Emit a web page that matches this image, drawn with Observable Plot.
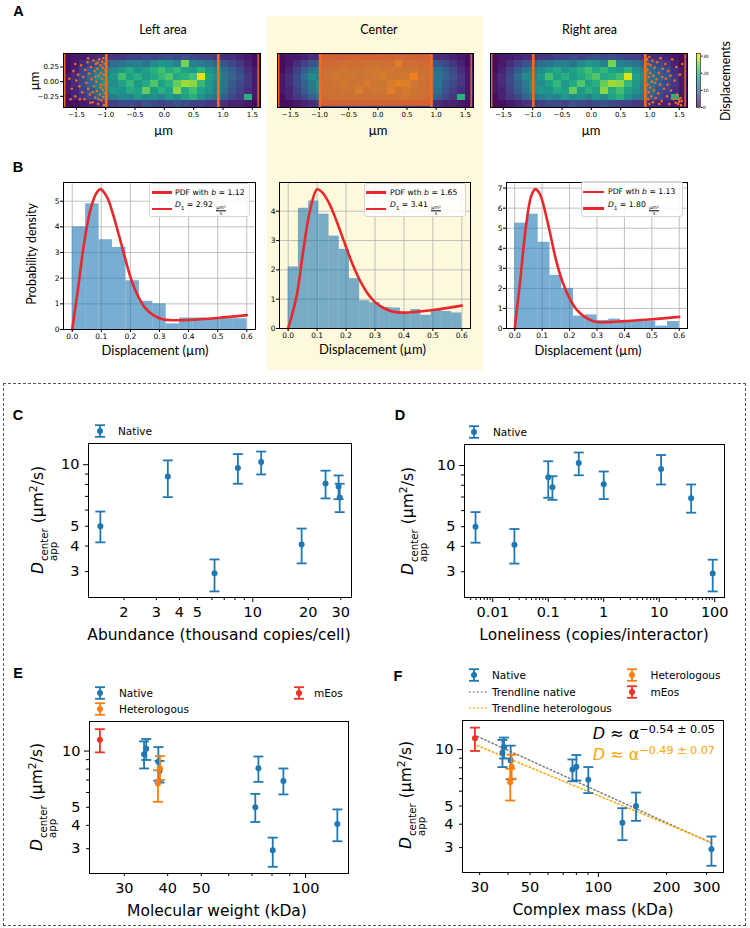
<!DOCTYPE html>
<html><head><meta charset="utf-8">
<script src="https://cdn.jsdelivr.net/npm/d3@7"></script>
<script src="https://cdn.jsdelivr.net/npm/@observablehq/plot@0.6"></script>
<style>
html,body{margin:0;padding:0;background:#fff;}
#root{position:relative;width:750px;height:928px;overflow:hidden;background:#fff;}
#root svg{overflow:visible;}
.lbl{position:absolute;white-space:nowrap;line-height:1;}
.ss{display:inline-flex;flex-direction:column;font-size:0.66em;line-height:0.95;vertical-align:-0.45em;margin-left:1px;}
.frac{display:inline-flex;flex-direction:column;align-items:center;font-size:0.62em;line-height:1.05;vertical-align:-0.5em;margin-left:1px;}
.frac span:first-child{border-bottom:0.7px solid #000;}
</style></head><body><div id="root"></div>
<script>
const root = document.getElementById("root");
const ORANGE = "#f36a21", RED = "#e8282b";
const BLUE = "#1f77b4", ORG = "#ff7f0e", MEOS = "#ee3224";

// ---------------- Panel A data ----------------
const heatXRange = [-1.72, 1.64];
const heatYRange = [-0.44, 0.48];
const heatGrid = [
  [1,2,2,3,4,4,5,5,6,6,7,6,7,8,7,8,7,6,6,5,4,4,3,2,1],
  [1,2,4,6,8,9,11,12,13,14,12,15,17,16,14,25,14,13,12,10,8,7,5,3,1],
  [1,3,6,9,12,13,15,17,19,16,18,20,22,19,21,18,17,20,16,14,11,9,7,4,2],
  [2,4,7,11,15,14,17,22,18,20,17,19,21,23,19,20,22,30,18,15,12,10,8,5,2],
  [2,4,7,10,13,16,15,18,21,17,19,23,18,20,24,27,26,21,17,14,12,9,7,5,2],
  [2,3,6,9,12,15,17,16,19,18,24,17,20,18,26,19,22,18,16,13,11,8,6,4,2],
  [1,3,5,7,10,12,13,15,14,17,15,16,14,17,15,18,20,16,13,12,9,7,5,20,2],
  [1,1,2,3,4,5,6,7,7,6,8,7,6,7,8,7,6,6,5,5,4,3,3,2,1]
];
const boundaryInner = [-0.99, 0.92];
const boundaryEdge = [-1.7, 1.6];
const leftDots = [[-1.62,0.05],[-1.58,-0.12],[-1.55,0.18],[-1.52,-0.25],[-1.5,0.02],[-1.47,0.12],[-1.45,-0.08],[-1.42,0.28],[-1.4,-0.18],[-1.38,0.08],[-1.36,-0.3],[-1.35,0.2],[-1.33,-0.02],[-1.31,0.33],[-1.3,-0.12],[-1.28,0.14],[-1.27,-0.22],[-1.25,0.25],[-1.24,0.04],[-1.22,-0.35],[-1.21,0.36],[-1.2,-0.08],[-1.19,0.18],[-1.18,-0.27],[-1.17,0.3],[-1.16,0.0],[-1.15,-0.16],[-1.14,0.22],[-1.13,-0.38],[-1.12,0.1],[-1.11,0.38],[-1.1,-0.22],[-1.09,0.28],[-1.08,-0.05],[-1.08,0.15],[-1.07,-0.32],[-1.06,0.34],[-1.06,0.05],[-1.05,-0.14],[-1.05,0.24],[-1.04,-0.26],[-1.04,0.4],[-1.03,0.12],[-1.03,-0.4],[-1.02,-0.06],[-1.02,0.3],[-1.01,0.2],[-1.01,-0.2],[-1.0,0.0],[-1.0,-0.34],[-1.12,-0.3],[-1.26,-0.36],[-1.44,-0.3],[-1.18,0.08],[-1.3,0.4],[-1.52,0.3],[-1.6,-0.3],[-1.09,-0.1],[-1.14,0.32],[-1.22,-0.18]];
const rightDots = [[0.95,0.38],[0.96,0.2],[0.96,-0.05],[0.97,-0.3],[0.97,0.3],[0.98,0.08],[0.98,-0.18],[0.99,0.42],[0.99,-0.38],[1.0,0.15],[1.0,-0.1],[1.01,0.28],[1.02,-0.25],[1.03,0.0],[1.04,0.36],[1.05,-0.35],[1.06,0.1],[1.07,-0.15],[1.08,0.24],[1.1,-0.28],[1.11,0.04],[1.12,0.33],[1.14,-0.2],[1.15,0.15],[1.17,-0.05],[1.18,0.4],[1.2,-0.33],[1.22,0.22],[1.24,-0.12],[1.26,0.3],[1.27,0.05],[1.29,-0.25],[1.31,0.18],[1.33,-0.38],[1.35,0.1],[1.36,-0.15],[1.38,0.38],[1.4,-0.3],[1.42,0.02],[1.44,-0.36],[1.45,0.25],[1.46,-0.22],[1.48,-0.38],[1.49,-0.3],[1.5,-0.34],[1.51,0.12],[1.52,-0.28],[1.53,-0.4],[1.54,-0.33],[1.55,0.3],[1.3,-0.05],[1.21,0.08],[1.09,-0.02],[1.16,-0.38]];
const centerRegion = [[-0.99, 0.92, -0.42, 0.46]];
const heatTicksX = [-1.5, -1, -0.5, 0, 0.5, 1, 1.5];
const heatTicksY = [-0.25, 0, 0.25];
const colorbarTicks = [0, 10, 20, 30];
const colorMax = 31.5;

// ---------------- Panel B data ----------------
const histRange = [0, 0.6];
const histLeft = [4.0,4.9,3.5,3.2,1.9,1.1,1.0,0.22,0.45,0.45,0.42,0.42,0.42];
const histCenter = [2.1,4.1,4.35,3.9,3.15,2.7,1.7,0.95,0.88,0.72,0.7,0.5,0.65,0.45,0.62,0.58,0.53];
const histRight = [5.25,5.7,4.3,2.65,2.0,0.62,0.68,0.4,0.47,0.3,0.37,0.37,0.12,0.35];
const pdfLeft = [[0,0],[0.02,1.6],[0.04,3.3],[0.06,4.55],[0.08,5.25],[0.097,5.47],[0.12,5.15],[0.14,4.5],[0.16,3.7],[0.18,2.85],[0.2,2.05],[0.22,1.45],[0.25,0.85],[0.28,0.55],[0.31,0.4],[0.35,0.36],[0.4,0.37],[0.5,0.45],[0.6,0.56]];
const pdfCenter = [[0,0],[0.029,1.1],[0.052,2.65],[0.075,4.0],[0.1,4.75],[0.12,4.62],[0.14,4.3],[0.16,3.85],[0.18,3.32],[0.2,2.78],[0.22,2.25],[0.24,1.8],[0.26,1.42],[0.28,1.12],[0.3,0.9],[0.33,0.7],[0.36,0.58],[0.4,0.54],[0.5,0.63],[0.6,0.78]];
const pdfRight = [[0,0],[0.02,2.4],[0.04,5.0],[0.06,6.6],[0.075,6.95],[0.09,6.75],[0.1,6.4],[0.125,5.0],[0.15,3.45],[0.175,2.3],[0.2,1.5],[0.225,0.95],[0.25,0.63],[0.28,0.4],[0.3,0.32],[0.35,0.32],[0.4,0.37],[0.5,0.46],[0.6,0.58]];
const histTicksX = [0, 0.1, 0.2, 0.3, 0.4, 0.5, 0.6];

// ---------------- Panels C-F data ----------------
const nativeD     = [5.0, 8.76, 2.94, 9.63, 10.3, 4.07, 8.1, 7.83, 6.91];
const nativeLo    = [4.17, 6.94, 2.40, 8.07, 8.96, 3.29, 6.84, 6.78, 5.86];
const nativeHi    = [5.9, 10.5, 3.44, 11.27, 11.6, 4.87, 9.35, 8.86, 8.07];
const nativeAbund = [1.49, 3.46, 6.2, 8.3, 11.1, 18.4, 24.8, 29.2, 29.6];
const nativeLonel = [0.0049, 0.1, 92, 10.8, 0.355, 0.0246, 1.0, 0.119, 37.6];
const nativeMW    = [71.6, 37.6, 80.4, 34.2, 34.7, 123.5, 73.1, 37.9, 86.3];
const nativeMass  = [146.5, 41.1, 315, 37.8, 38.4, 127.6, 80, 76.9, 90.3];
const heteroD = [8.1, 6.7], heteroLo = [7.0, 5.35], heteroHi = [9.4, 7.9];
const heteroMW = [38.0, 37.5], heteroMass = [41.5, 40.9];
const meosD = [11.5], meosLo = [9.84], meosHi = [13.1], meosMW = [25.5], meosMass = [28.6];
const trendMass = [29.3, 315];
const trendNativeD = [11.77, 3.17];
const trendHeteroD = [10.5, 3.2];

const native = nativeD.map((d, i) => ({d, lo: nativeLo[i], hi: nativeHi[i], abund: nativeAbund[i], lonel: nativeLonel[i], mw: nativeMW[i], mass: nativeMass[i]}));
const hetero = heteroD.map((d, i) => ({d, lo: heteroLo[i], hi: heteroHi[i], mw: heteroMW[i], mass: heteroMass[i]}));
const meos = meosD.map((d, i) => ({d, lo: meosLo[i], hi: meosHi[i], mw: meosMW[i], mass: meosMass[i]}));
const trendNative = trendMass.map((m, i) => ({mass: m, d: trendNativeD[i]}));
const trendHetero = trendMass.map((m, i) => ({mass: m, d: trendHeteroD[i]}));

// ---------------- helpers ----------------
function div(css, html = "") {
  const d = document.createElement("div");
  d.style.cssText = "position:absolute;" + css;
  d.innerHTML = html;
  root.appendChild(d);
  return d;
}
function label(html, x, y, o = {}) {
  const size = o.size || 12, fam = o.family || "'DejaVu Sans'", anchor = o.anchor || "middle";
  const tx = anchor === "middle" ? "-50%" : anchor === "end" ? "-100%" : "0";
  const d = document.createElement("div");
  d.className = "lbl";
  d.innerHTML = html;
  d.style.cssText = `left:${x}px;top:${y}px;font-size:${size}px;font-family:${fam};font-weight:${o.weight || "normal"};color:${o.color || "#000"};transform:translate(${tx},-50%)${o.rotate ? ` rotate(${o.rotate}deg)` : ""};`;
  root.appendChild(d);
  return d;
}
function addPlot([x0, y0, x1, y1], opts, pad = [20, 20, 30, 40]) {
  const [pt, pr, pb, pl] = pad;
  const svg = Plot.plot({
    width: x1 - x0 + pl + pr, height: y1 - y0 + pt + pb,
    marginTop: pt, marginRight: pr, marginBottom: pb, marginLeft: pl,
    ...opts,
    style: {background: "transparent", color: "#000", fontFamily: "DejaVu Sans", overflow: "visible"}
  });
  svg.style.position = "absolute";
  svg.style.left = (x0 - pl) + "px";
  svg.style.top = (y0 - pt) + "px";
  svg.style.maxWidth = "none";
  root.appendChild(svg);
  return svg;
}
const capSymbol = {draw(ctx, size) { const w = Math.sqrt(size / Math.PI); ctx.moveTo(-w, 0); ctx.lineTo(w, 0); }};

// ---------------- backgrounds ----------------
div("left:267px;top:16px;width:216px;height:354px;background:#fef9dc;");
div("left:3px;top:383px;width:741px;height:541px;border:1px dashed #555;");

// ---------------- Panel A ----------------
const nR = heatGrid.length, nC = heatGrid[0].length;
const cw = (heatXRange[1] - heatXRange[0]) / nC, chh = (heatYRange[1] - heatYRange[0]) / nR;
const heatCells = heatGrid.flatMap((row, r) => row.map((v, c) => ({
  x1: heatXRange[0] + c * cw, x2: heatXRange[0] + (c + 1) * cw,
  y1: heatYRange[1] - (r + 1) * chh, y2: heatYRange[1] - r * chh, v})));

function heatPanel(frame, which) {
  const marks = [Plot.rect(heatCells, {x1: "x1", x2: "x2", y1: "y1", y2: "y2", fill: "v", inset: 0, shapeRendering: "crispEdges"})];
  if (which === "left") marks.push(Plot.dot(leftDots, {x: d => d[0], y: d => d[1], r: 1.3, fill: ORANGE}));
  if (which === "right") marks.push(Plot.dot(rightDots, {x: d => d[0], y: d => d[1], r: 1.3, fill: ORANGE}));
  if (which === "center") marks.push(Plot.rect(centerRegion, {x1: d => d[0], x2: d => d[1], y1: d => d[2], y2: d => d[3], fill: ORANGE, fillOpacity: 0.82}));
  marks.push(Plot.ruleX(boundaryEdge, {stroke: ORANGE, strokeWidth: 1.4}));
  marks.push(Plot.ruleX(boundaryInner, {stroke: ORANGE, strokeWidth: 2.6}));
  marks.push(Plot.frame({stroke: "#000", strokeWidth: 1}));
  marks.push(Plot.axisX(heatTicksX, {tickFormat: d3.format(".1f"), tickSize: 3, tickPadding: 1.5, fontSize: 7, label: null}));
  if (which === "left") marks.push(Plot.axisY(heatTicksY, {tickFormat: d3.format(".2f"), tickSize: 3, tickPadding: 1.5, fontSize: 7, label: null}));
  addPlot(frame, {
    x: {domain: heatXRange},
    y: which === "left" ? {domain: heatYRange} : {domain: heatYRange, axis: null},
    color: {type: "linear", scheme: "viridis", domain: [0, colorMax]},
    marks
  });
}
heatPanel([63, 53, 260, 107], "left");
heatPanel([277, 53, 473, 107], "center");
heatPanel([490, 53, 687, 107], "right");

// colorbar
addPlot([696, 53, 700, 107], {
  x: {domain: [0, 1], axis: null}, y: {domain: [0, colorMax]},
  color: {type: "linear", scheme: "viridis", domain: [0, colorMax]},
  marks: [
    Plot.rect(d3.range(0, colorMax, 0.25), {x1: 0, x2: 1, y1: d => d, y2: d => d + 0.25, fill: d => d, inset: 0}),
    Plot.frame({stroke: "#000", strokeWidth: 0.6}),
    Plot.axisY(colorbarTicks, {anchor: "right", tickSize: 1.5, tickPadding: 1, fontSize: 4.5, label: null})
  ]
}, [5, 20, 5, 5]);

label("Left area", 163, 30, {size: 12.5, family: "Lato"});
label("Center", 379, 30, {size: 12.5, family: "Lato"});
label("Right area", 589.5, 30, {size: 12.5, family: "Lato"});
label("µm", 34, 81, {size: 13, family: "Lato", rotate: -90});
label("µm", 163.5, 130, {size: 13, family: "Lato"});
label("µm", 378, 130, {size: 13, family: "Lato"});
label("µm", 591, 130, {size: 13, family: "Lato"});
label("Displacements", 726, 81, {size: 12.5, family: "Lato", rotate: -90});

// ---------------- Panel B ----------------
function histPanel(frame, bars, curve, ymax, yTicks) {
  const bw = (histRange[1] - histRange[0]) / bars.length;
  const data = bars.map((v, i) => ({x1: histRange[0] + i * bw, x2: histRange[0] + (i + 1) * bw, v}));
  addPlot(frame, {
    x: {domain: [-0.03, 0.63]}, y: {domain: [0, ymax]},
    marks: [
      Plot.gridX(histTicksX, {stroke: "#b0b0b0", strokeOpacity: 1, strokeWidth: 0.8}),
      Plot.gridY(yTicks, {stroke: "#b0b0b0", strokeOpacity: 1, strokeWidth: 0.8}),
      Plot.rectY(data, {x1: "x1", x2: "x2", y: "v", fill: BLUE, fillOpacity: 0.6, inset: 0}),
      Plot.line(curve, {x: d => d[0], y: d => d[1], stroke: RED, strokeWidth: 2.6, curve: "catmull-rom"}),
      Plot.frame({stroke: "#000", strokeWidth: 1}),
      Plot.axisX(histTicksX, {tickFormat: d3.format(".1f"), tickSize: 3, tickPadding: 1, fontSize: 7.5, label: null}),
      Plot.axisY(yTicks, {tickFormat: d3.format("d"), tickSize: 3, tickPadding: 1, fontSize: 7.5, label: null})
    ]
  });
}
histPanel([63, 182, 255, 329], histLeft, pdfLeft, 5.73, [0, 1, 2, 3, 4, 5]);
histPanel([279, 182, 470, 328], histCenter, pdfCenter, 4.98, [0, 1, 2, 3, 4]);
histPanel([506, 182, 687, 328], histRight, pdfRight, 7.28, [0, 1, 2, 3, 4, 5, 6, 7]);

function pdfLegend(x0, y0, x1, y1, lx0, lx1, tx, r1, r2, t1, t2) {
  div(`left:${x0}px;top:${y0}px;width:${x1 - x0}px;height:${y1 - y0}px;box-sizing:border-box;border:1px solid #d4d4d4;border-radius:3px;background:rgba(255,255,255,0.85);`);
  div(`left:${lx0}px;top:${r1 - 1.3}px;width:${lx1 - lx0}px;height:2.6px;background:${RED};`);
  div(`left:${lx0}px;top:${r2 - 1.3}px;width:${lx1 - lx0}px;height:2.6px;background:${RED};`);
  label(t1, tx, r1, {size: 7.7, anchor: "start"});
  label(t2, tx, r2, {size: 7.7, anchor: "start"});
}
const fracUnit = `<span class="frac"><span>µm²</span><span>s</span></span>`;
pdfLegend(149, 183, 250, 217, 152, 172, 175, 192.5, 209, "PDF with <i>b</i> = 1.12", `<i>D</i><sub style="font-size:0.7em">1</sub> = 2.92 ${fracUnit}`);
pdfLegend(364, 183, 466, 217, 366, 386, 390, 192.5, 209, "PDF wth <i>b</i> = 1.65", `<i>D</i><sub style="font-size:0.7em">1</sub> = 3.41 ${fracUnit}`);
pdfLegend(581, 181, 683, 217, 583, 604, 608, 192, 208.5, "PDF wth <i>b</i> = 1.13", `<i>D</i><sub style="font-size:0.7em">1</sub> = 1.80 ${fracUnit}`);

label("Probability density", 31.5, 254, {size: 12.5, family: "Lato", rotate: -90});
label("Displacement (µm)", 155, 350, {size: 13, family: "Lato"});
label("Displacement (µm)", 372.5, 349, {size: 13, family: "Lato"});
label("Displacement (µm)", 588, 350, {size: 13, family: "Lato"});

// ---------------- Panels C-F ----------------
function errMarks(data, xKey, color) {
  return [
    Plot.ruleX(data, {x: xKey, y1: "lo", y2: "hi", stroke: color, strokeWidth: 1.8}),
    Plot.dot(data, {x: xKey, y: "lo", symbol: capSymbol, r: 5, stroke: color, strokeWidth: 1.8, fill: "none"}),
    Plot.dot(data, {x: xKey, y: "hi", symbol: capSymbol, r: 5, stroke: color, strokeWidth: 1.8, fill: "none"}),
    Plot.dot(data, {x: xKey, y: "d", r: 3, fill: color, stroke: "none"})
  ];
}
const fmtNum = d => String(d);
const TS = 14.5;
function logAxes(xt, yt) {
  const xLab = [...xt.major, ...xt.minorLab], yLab = [...yt.major, ...yt.minorLab];
  return [
    Plot.axisX(xt.major, {tickSize: 5, tickFormat: () => "", label: null}),
    Plot.axisX([...xt.minorLab, ...xt.minor], {tickSize: 3, tickFormat: () => "", label: null}),
    Plot.axisY(yt.major, {tickSize: 5, tickFormat: () => "", label: null}),
    Plot.axisY([...yt.minorLab, ...yt.minor], {tickSize: 3, tickFormat: () => "", label: null}),
    Plot.text(xLab, {x: d => d, text: fmtNum, frameAnchor: "bottom", lineAnchor: "top", dy: 9, fontSize: TS, fill: "#000"}),
    Plot.text(yLab, {y: d => d, text: fmtNum, frameAnchor: "left", textAnchor: "end", dx: -9, fontSize: TS, fill: "#000"})
  ];
}
function logMinor(lo, hi, skip) {
  const out = [];
  for (let e = Math.floor(Math.log10(lo)); e <= Math.ceil(Math.log10(hi)); e++)
    for (let k = 2; k <= 9; k++) { const v = +(k * Math.pow(10, e)).toPrecision(3); if (v >= lo && v <= hi && !skip.includes(v)) out.push(v); }
  return out;
}
const yTicksCD = {major: [10], minorLab: [3, 4, 5], minor: [6, 7, 8, 9]};
const yTicksEF = {major: [10], minorLab: [3, 4, 5], minor: [6, 7, 8, 9]};
const xTicksC = {major: [10], minorLab: [2, 3, 4, 5, 20, 30], minor: [6, 7, 8, 9]};
const xTicksD = {major: [0.01, 0.1, 1, 10, 100], minorLab: [], minor: logMinor(0.0031, 150, [])};
const xTicksE = {major: [100], minorLab: [30, 40, 50], minor: [60, 70, 80, 90]};
const xTicksF = {major: [100], minorLab: [30, 50, 200, 300], minor: [40, 60, 70, 80, 90]};

function scatterPanel(frame, xDomain, yDomain, xt, yt, layers) {
  addPlot(frame, {
    x: {type: "log", domain: xDomain}, y: {type: "log", domain: yDomain},
    marks: [...layers, Plot.frame({stroke: "#000", strokeWidth: 1}), ...logAxes(xt, yt)]
  }, [20, 20, 40, 50]);
}
scatterPanel([88, 443, 351, 597], [1.285, 34.3], [2.24, 12.7], xTicksC, yTicksCD, errMarks(native, "abund", BLUE));
scatterPanel([464, 444, 724, 597], [0.0031, 150], [2.24, 12.7], xTicksD, yTicksCD, errMarks(native, "lonel", BLUE));
scatterPanel([89, 721, 348, 873], [23.8, 133], [2.21, 14.4], xTicksE, yTicksEF,
  [...errMarks(native, "mw", BLUE), ...errMarks(hetero, "mw", ORG), ...errMarks(meos, "mw", MEOS)]);
scatterPanel([462, 720, 723, 872], [25.2, 356], [2.21, 14.3], xTicksF, yTicksEF, [
  Plot.line(trendNative, {x: "mass", y: "d", stroke: "#7f7f7f", strokeWidth: 1.5, strokeDasharray: "1.5,2.5"}),
  Plot.line(trendHetero, {x: "mass", y: "d", stroke: "#ffa500", strokeWidth: 1.5, strokeDasharray: "1.5,2.5"}),
  ...errMarks(native, "mass", BLUE), ...errMarks(hetero, "mass", ORG), ...errMarks(meos, "mass", MEOS)]);

// legends C-F
function errMarker(cx, cy, color) {
  div(`left:${cx - 6}px;top:${cy - 7}px;width:12px;height:14px;`,
    `<svg width="12" height="14" style="display:block"><line x1="6" x2="6" y1="1.2" y2="12.8" stroke="${color}" stroke-width="1.8"/><line x1="1" x2="11" y1="1.2" y2="1.2" stroke="${color}" stroke-width="1.8"/><line x1="1" x2="11" y1="12.8" y2="12.8" stroke="${color}" stroke-width="1.8"/><circle cx="6" cy="7" r="3" fill="${color}"/></svg>`);
}
function dotLine(x0, x1, cy, color) {
  div(`left:${x0}px;top:${cy - 1}px;width:${x1 - x0}px;height:2px;`,
    `<svg width="${x1 - x0}" height="2" style="display:block"><line x1="0" x2="${x1 - x0}" y1="1" y2="1" stroke="${color}" stroke-width="1.5" stroke-dasharray="1.5,2.5"/></svg>`);
}
const LS = 10.5;
errMarker(100, 431, BLUE); label("Native", 118, 431, {size: LS, anchor: "start"});
errMarker(474, 431.5, BLUE); label("Native", 493, 431.5, {size: LS, anchor: "start"});
errMarker(100, 692.5, BLUE); label("Native", 119, 692.5, {size: LS, anchor: "start"});
errMarker(100, 708.5, ORG); label("Heterologous", 119, 708.5, {size: LS, anchor: "start"});
errMarker(299, 692.5, MEOS); label("mEos", 314, 692.5, {size: LS, anchor: "start"});
errMarker(474, 675, BLUE); label("Native", 492, 675, {size: LS, anchor: "start"});
dotLine(469, 487, 691.5, "#7f7f7f"); label("Trendline native", 492, 691.5, {size: LS, anchor: "start"});
dotLine(469, 487, 707.5, "#ffa500"); label("Trendline heterologous", 492, 707.5, {size: LS, anchor: "start"});
errMarker(631.5, 675, ORG); label("Heterologous", 650.5, 675, {size: LS, anchor: "start"});
errMarker(631.5, 691.5, MEOS); label("mEos", 650.5, 691.5, {size: LS, anchor: "start"});

label(`<i>D</i> ≈ α<sup style="font-size:0.7em">−0.54 ± 0.05</sup>`, 715, 733, {size: 16, anchor: "end"});
label(`<i>D</i> ≈ α<sup style="font-size:0.7em">−0.49 ± 0.07</sup>`, 715, 754, {size: 16, anchor: "end", color: "#ffa500"});

// axis labels C-F
const yLab = `<i>D</i><span class="ss"><span>center</span><span>app</span></span> (µm<sup style="font-size:0.7em">2</sup>/s)`;
label(yLab, 43.5, 520, {size: 15.5, rotate: -90});
label(yLab, 414, 521, {size: 15.5, rotate: -90});
label(yLab, 43, 797, {size: 15.5, rotate: -90});
label(yLab, 412, 795, {size: 15.5, rotate: -90});
label("Abundance (thousand copies/cell)", 219, 636, {size: 15.5});
label("Loneliness (copies/interactor)", 594, 636, {size: 15.5});
label("Molecular weight (kDa)", 217, 911.5, {size: 15.5});
label("Complex mass (kDa)", 593, 911, {size: 15.5});

// panel letters
const PL = {size: 14.5, weight: "bold", family: "'Liberation Sans'"};
label("A", 18.5, 10.5, PL);
label("B", 18, 166.5, PL);
label("C", 18, 415, PL);
label("D", 400, 415, PL);
label("E", 18, 673, PL);
label("F", 398, 676, PL);
</script></body></html>
